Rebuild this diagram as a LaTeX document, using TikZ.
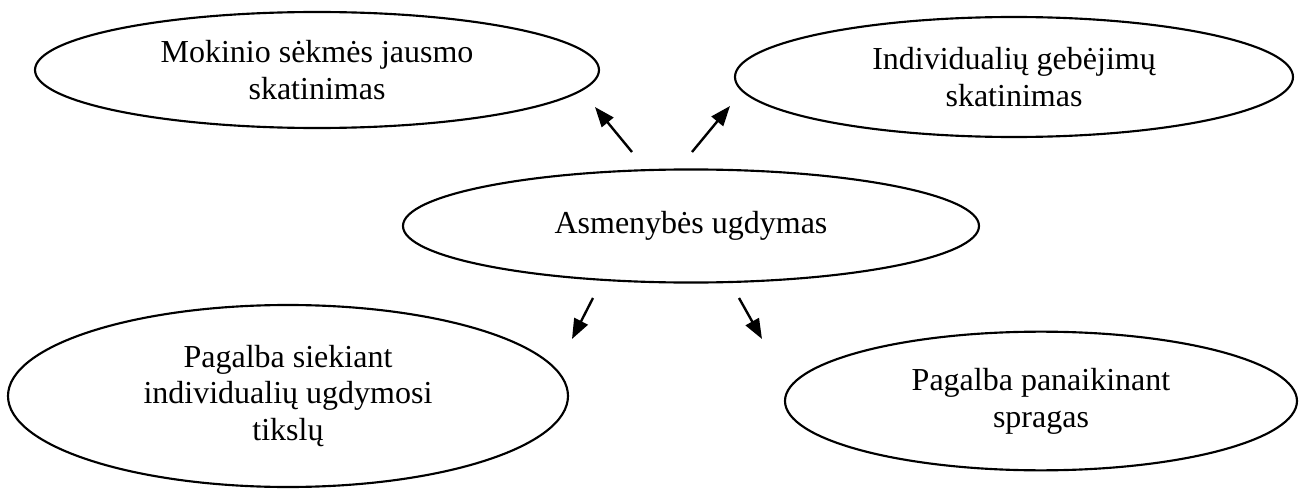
\documentclass[tikz,border=0pt]{standalone}
\usepackage{fontspec}
\setmainfont{Liberation Serif}
\usetikzlibrary{shapes.geometric,arrows.meta}
\begin{document}
\begin{tikzpicture}[x=0.375pt,y=-0.375pt,
  ell/.style={draw=black,line width=0.8pt,ellipse,inner sep=0pt,align=center,
    font=\fontsize{12}{13.8}\selectfont},
  arr/.style={line width=0.9pt,-{Triangle[length=7.5pt,width=5.6pt]}}]
\useasboundingbox (0,0) rectangle (1299,489);
\node[ell,minimum width=211.5pt,minimum height=43.5pt] (e1) at (317,70) {Mokinio sėkmės jausmo\\skatinimas};
\node[ell,minimum width=209.25pt,minimum height=45pt] (e2) at (1014,77) {Individualių gebėjimų\\skatinimas};
\node[ell,minimum width=216pt,minimum height=42.4pt] (e3) at (691,226) {Asmenybės ugdymas};
\node[ell,minimum width=210pt,minimum height=68.25pt] (e4) at (288,396) {Pagalba siekiant\\individualių ugdymosi\\tikslų};
\node[ell,minimum width=192pt,minimum height=52pt] (e5) at (1041,401) {Pagalba panaikinant\\spragas};
\coordinate (a1s) at (632,152); \coordinate (a1e) at (595,107);
\coordinate (a2s) at (692,152); \coordinate (a2e) at (730,106);
\coordinate (a3s) at (593,298); \coordinate (a3e) at (572,339);
\coordinate (a4s) at (739,298); \coordinate (a4e) at (762,339);
\draw[arr] (a1s) -- (a1e);
\draw[arr] (a2s) -- (a2e);
\draw[arr] (a3s) -- (a3e);
\draw[arr] (a4s) -- (a4e);
\end{tikzpicture}
\end{document}
